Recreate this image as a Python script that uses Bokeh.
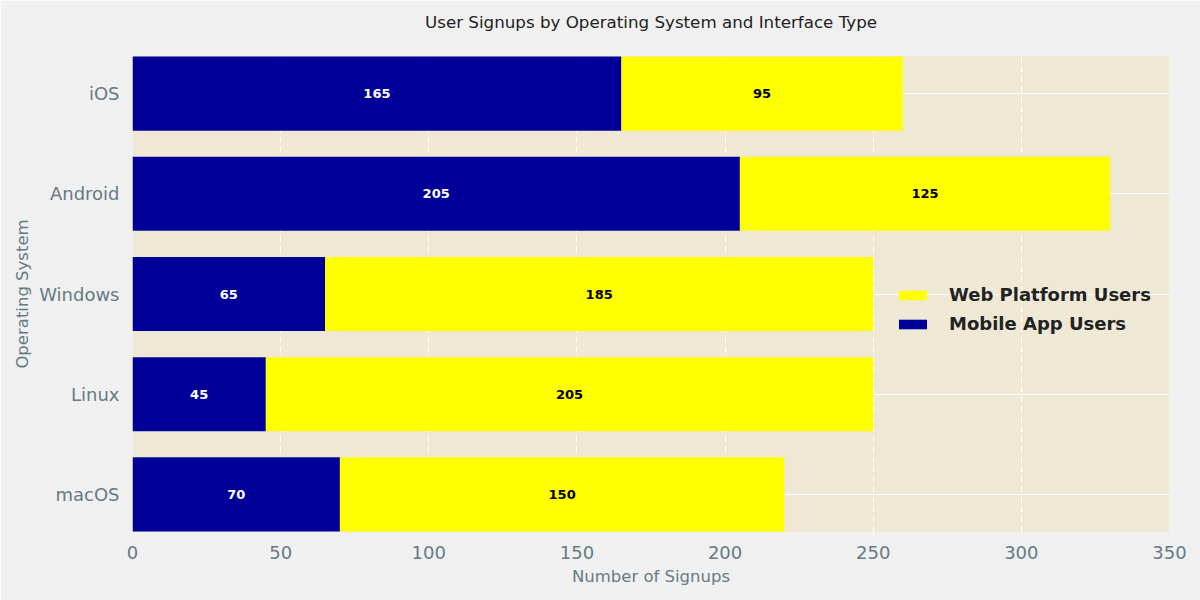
from bokeh.plotting import figure
from bokeh.models import (ColumnDataSource, FixedTicker, Range1d, Legend, LegendItem,
                          LinearAxis)
from bokeh.core.properties import value
from bokeh.embed import file_html
from bokeh.resources import INLINE

# Data (bottom to top)
os_names = ["macOS", "Linux", "Windows", "Android", "iOS"]
mobile_users = [70, 45, 65, 205, 165]
web_users = [150, 205, 185, 125, 95]
x_ticks = [0, 50, 100, 150, 200, 250, 300, 350]
title_text = "User Signups by Operating System and Interface Type"

BLUE = "#000099"
YELLOW = "#ffff00"
FONT = "DejaVu Sans"
AXIS_COLOR = "#657b83"

ypos = list(range(len(os_names)))
src = ColumnDataSource(dict(
    y=ypos,
    mobile=mobile_users,
    web=web_users,
    mobile_mid=[m / 2 for m in mobile_users],
    web_mid=[m + w / 2 for m, w in zip(mobile_users, web_users)],
    mobile_txt=[str(m) for m in mobile_users],
    web_txt=[str(w) for w in web_users],
))

p = figure(width=1200, height=600, output_backend="svg", toolbar_location=None,
           x_range=Range1d(0, 350), y_range=Range1d(-0.38, 4.38),
           min_border_left=132, min_border_right=31, min_border_top=55, min_border_bottom=68)

p.background_fill_color = "#eee8d5"
p.border_fill_color = "#f0f0f0"
p.outline_line_color = None

renderers = p.hbar_stack(["mobile", "web"], y="y", height=0.74, color=[BLUE, YELLOW],
                         line_color=None, source=src)

p.text(x="mobile_mid", y="y", text="mobile_txt", source=src, text_color="white",
       text_font=value(FONT), text_font_style="bold", text_font_size="13px",
       text_align="center", text_baseline="middle")
p.text(x="web_mid", y="y", text="web_txt", source=src, text_color="black",
       text_font=value(FONT), text_font_style="bold", text_font_size="13px",
       text_align="center", text_baseline="middle")

# Title drawn as the label of a bare axis above the frame
title_axis = LinearAxis(ticker=FixedTicker(ticks=[]), axis_label=title_text)
title_axis.axis_line_color = None
title_axis.major_tick_line_color = None
title_axis.minor_tick_line_color = None
title_axis.major_tick_out = 0
title_axis.major_label_standoff = 0
title_axis.major_label_text_font_size = "0px"
title_axis.axis_label_standoff = 24
title_axis.axis_label_text_font = FONT
title_axis.axis_label_text_font_size = "16.7px"
title_axis.axis_label_text_font_style = "normal"
title_axis.axis_label_text_color = "#222222"
p.add_layout(title_axis, "above")

# Axes
xax = p.below[0]
yax = p.left[0]
xax.ticker = FixedTicker(ticks=x_ticks)
yax.ticker = FixedTicker(ticks=ypos)
yax.major_label_overrides = {i: n for i, n in enumerate(os_names)}
for ax in (xax, yax):
    ax.axis_line_color = None
    ax.major_tick_line_color = None
    ax.minor_tick_line_color = None
    ax.major_label_text_font = FONT
    ax.major_label_text_font_size = "18px"
    ax.major_label_text_color = AXIS_COLOR
    ax.axis_label_text_font = FONT
    ax.axis_label_text_font_size = "16.5px"
    ax.axis_label_text_font_style = "normal"
    ax.axis_label_text_color = AXIS_COLOR
xax.axis_label = "Number of Signups"
yax.axis_label = "Operating System"
xax.major_label_standoff = 7
yax.major_label_standoff = 7
xax.axis_label_standoff = 5
yax.axis_label_standoff = 4

# Grid
p.xgrid.grid_line_color = "white"
p.xgrid.grid_line_dash = "6 4"
p.xgrid.grid_line_width = 1
p.ygrid.grid_line_color = "white"
p.ygrid.grid_line_width = 1
p.ygrid.level = "underlay"
p.xgrid.level = "underlay"

legend = Legend(items=[
    LegendItem(label="Web Platform Users", renderers=[renderers[1]]),
    LegendItem(label="Mobile App Users", renderers=[renderers[0]]),
], location=(763, 198))
legend.background_fill_alpha = 0
legend.border_line_color = None
legend.label_text_font = FONT
legend.label_text_font_size = "18px"
legend.label_text_font_style = "bold"
legend.label_text_color = "#222222"
legend.glyph_width = 35
legend.glyph_height = 12
legend.label_height = 20
legend.spacing = 8
legend.padding = 10
legend.label_standoff = 19
p.add_layout(legend)

open("out.html", "w").write(file_html(p, INLINE))
